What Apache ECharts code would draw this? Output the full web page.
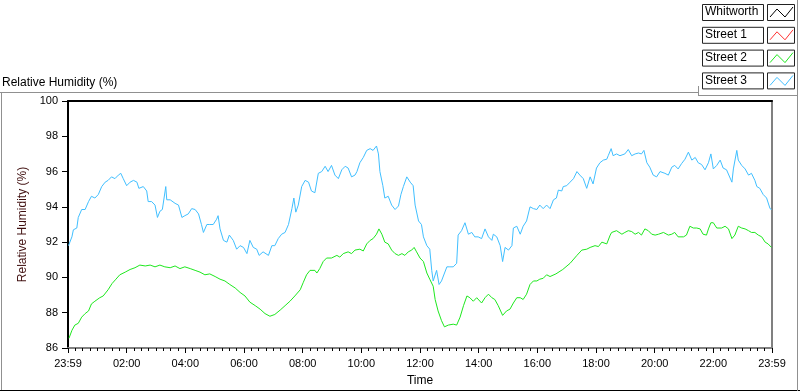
<!DOCTYPE html>
<html>
<head>
<meta charset="utf-8">
<script src="https://cdn.jsdelivr.net/npm/echarts@6/dist/echarts.min.js"></script>
<style>
html,body{margin:0;padding:0;background:#fff;}
#chart{width:800px;height:392px;}
</style>
</head>
<body>
<div id="chart"></div>
<script>
// ---- Data (minutes since 23:59 start, relative humidity %) ----
const seriesNames = ['Whitworth', 'Street 1', 'Street 2', 'Street 3'];
const seriesColors = ['#000000', '#ff3030', '#1ee81e', '#40bfff'];
const yTicks = [86, 88, 90, 92, 94, 96, 98, 100];
const xTickLabelsEnds = '23:59';

const whitworthTime = [];
const whitworthHum = [];
const street1Time = [];
const street1Hum = [];

const street2Time = [2,8,14,21,28,35,42,48,55,65,72,82,90,98,106,117,127,137,147,158,168,178,188,198,209,219,229,239,250,260,270,280,290,301,311,321,331,342,352,362,372,383,393,403,413,423,434,444,454,464,475,481,488,495,505,509,515,522,529,539,543,550,556,563,573,580,587,597,604,611,618,624,631,636,642,648,655,662,669,676,683,689,696,703,708,713,720,727,734,740,747,751,757,764,770,778,788,795,802,809,816,822,829,836,846,853,860,867,873,880,889,897,904,911,918,925,931,938,945,952,959,965,972,979,986,998,1012,1027,1041,1051,1061,1068,1078,1085,1092,1102,1109,1112,1122,1133,1139,1146,1153,1160,1167,1173,1180,1187,1194,1201,1208,1218,1228,1235,1241,1248,1259,1265,1272,1279,1286,1293,1299,1306,1310,1315,1320,1327,1337,1344,1351,1358,1364,1371,1378,1385,1392,1398,1405,1412,1419,1426,1432,1439];
const street2Hum = [86.55,87.0,87.3,87.4,87.75,87.95,88.1,88.5,88.65,88.85,88.95,89.3,89.65,89.9,90.15,90.3,90.45,90.55,90.7,90.65,90.7,90.6,90.7,90.6,90.55,90.65,90.5,90.6,90.5,90.4,90.3,90.15,90.2,90.05,89.9,89.8,89.6,89.4,89.15,88.95,88.6,88.4,88.2,87.95,87.8,87.9,88.15,88.4,88.65,88.95,89.3,89.7,90.15,90.4,90.4,90.25,90.5,90.9,91.1,91.1,91.0,91.25,91.15,91.35,91.45,91.35,91.55,91.6,91.5,91.9,92.1,92.2,92.45,92.75,92.45,92.0,91.9,91.55,91.35,91.25,91.35,91.25,91.45,91.55,91.7,91.45,91.1,90.9,90.25,89.9,89.5,88.75,88.1,87.55,87.2,87.3,87.35,87.3,87.75,88.4,88.95,88.85,88.65,88.85,88.55,88.85,89.05,88.85,88.75,88.4,87.85,88.1,88.2,88.55,88.85,88.85,88.75,89.05,89.6,89.8,89.8,89.9,89.95,90.15,90.05,90.2,90.45,90.8,91.25,91.55,91.6,91.7,91.8,91.75,92.0,91.9,92.4,92.55,92.65,92.45,92.55,92.65,92.6,92.45,92.55,92.4,92.75,92.65,92.45,92.4,92.45,92.55,92.4,92.45,92.55,92.3,92.3,92.4,92.9,92.8,92.8,92.75,92.45,92.4,92.75,93.1,93.1,92.8,92.8,92.9,92.75,92.2,92.4,92.9,92.8,92.75,92.65,92.55,92.55,92.4,92.3,92.0,91.9,91.7];

const street3Time = [1,8,11,18,21,28,35,42,48,55,62,69,76,82,89,96,103,108,113,120,127,134,141,145,154,161,164,171,178,183,188,193,200,202,209,219,226,233,239,246,253,260,267,273,277,284,290,297,304,307,311,318,325,330,338,345,352,359,366,372,379,386,391,399,410,417,423,430,437,444,451,458,462,466,471,478,485,488,492,495,498,505,512,519,526,532,539,546,553,560,567,573,580,587,591,597,604,611,618,624,631,635,638,644,648,655,662,669,676,681,686,693,700,706,710,717,723,727,734,740,744,747,754,759,764,768,775,781,788,795,798,805,812,816,819,826,832,839,846,853,860,867,870,877,884,889,894,901,908,911,918,925,931,938,945,952,959,965,972,979,986,989,993,999,1003,1010,1013,1020,1027,1034,1041,1047,1054,1061,1068,1074,1081,1088,1095,1102,1105,1111,1115,1122,1129,1139,1146,1153,1160,1167,1173,1178,1184,1190,1197,1204,1211,1221,1228,1235,1241,1248,1255,1262,1269,1276,1283,1289,1296,1303,1310,1315,1320,1327,1334,1340,1347,1358,1361,1368,1371,1378,1385,1392,1398,1405,1409,1415,1422,1429,1436,1439];
const street3Hum = [91.8,92.3,92.7,92.8,93.4,93.85,93.85,94.3,94.6,94.5,94.7,95.15,95.4,95.5,95.7,95.6,95.8,95.9,95.6,95.2,95.4,95.5,95.4,95.05,95.15,94.9,94.3,94.3,94.1,93.4,93.75,93.85,95.15,94.4,94.4,94.2,94.1,93.4,93.5,93.6,93.9,93.85,93.6,93.0,92.55,93.0,93.0,93.0,93.3,93.5,92.75,92.1,92.0,92.4,92.1,91.6,91.8,91.7,91.35,92.1,91.7,91.6,91.25,91.45,91.25,91.8,91.8,92.2,92.45,92.55,93.0,93.9,94.5,93.7,94.1,95.15,95.5,95.6,95.4,95.3,94.9,94.8,95.9,96.0,96.3,96.0,96.35,95.8,95.6,96.1,96.3,96.2,95.7,95.8,96.0,96.5,96.8,97.2,97.3,97.2,97.45,97.0,96.0,95.2,94.5,94.6,94.1,93.85,94.05,94.7,95.15,95.7,95.4,95.2,94.1,93.2,93.0,92.3,91.8,91.6,90.4,89.8,90.4,89.6,89.8,89.7,90.6,90.6,90.6,90.8,92.4,92.65,93.1,93.2,92.45,92.55,92.3,92.3,92.2,92.75,92.3,92.1,92.45,92.3,91.8,90.9,91.7,91.55,91.8,92.8,92.9,92.45,92.9,93.2,94.0,93.9,93.85,94.1,93.9,94.1,93.9,93.9,94.4,94.5,94.95,94.9,95.15,95.2,95.4,95.6,96.0,95.8,95.6,95.05,95.7,95.3,96.2,96.5,96.65,96.7,96.9,97.3,96.9,97.0,96.9,97.0,97.25,96.9,97.0,97.05,97.0,97.2,96.5,96.25,95.8,95.7,96.0,95.9,95.8,96.25,96.35,96.15,96.45,96.7,97.1,96.65,96.8,96.5,96.4,96.1,96.5,97.0,96.15,96.35,96.65,96.2,96.1,95.4,96.15,97.2,96.65,96.35,96.15,95.8,95.9,95.5,95.15,95.05,94.7,94.5,93.9,93.85];

const seriesTimes = [whitworthTime, street1Time, street2Time, street3Time];
const seriesHums = [whitworthHum, street1Hum, street2Hum, street3Hum];

// ---- Chart ----
const chart = echarts.init(document.getElementById('chart'), null, {renderer: 'canvas'});
const FONT = 'Liberation Sans, Arial, sans-serif';

function fmtTime(v) {
  if (v === 0 || v === 1440) return xTickLabelsEnds;
  const h = Math.round(v / 60);
  return (h < 10 ? '0' : '') + h + ':00';
}

const series = seriesNames.map((name, i) => ({
  name: name,
  type: 'line',
  xAxisIndex: 0,
  yAxisIndex: 0,
  showSymbol: false,
  symbol: 'none',
  smooth: false,
  lineStyle: {color: seriesColors[i], width: 1},
  itemStyle: {color: seriesColors[i]},
  data: seriesTimes[i].map((t, k) => [t, seriesHums[i][k]])
}));

// Legend drawn as boxed items (LabVIEW style)
const legendGraphics = [];
const lgX = 702, lgY0 = 4, lgPitch = 22.8, lgW = 61, lgH = 16, icX = 767, icW = 27;
seriesNames.forEach((name, i) => {
  const y = lgY0 + i * lgPitch;
  legendGraphics.push({
    type: 'rect', shape: {x: lgX + 0.5, y: y + 0.5, width: lgW, height: lgH},
    style: {fill: '#fff', stroke: '#222', lineWidth: 1}, z: 10
  });
  legendGraphics.push({
    type: 'text', x: lgX + 3, y: y + 2,
    style: {text: name, fill: '#000', font: '12px ' + FONT}, z: 11
  });
  legendGraphics.push({
    type: 'rect', shape: {x: icX + 0.5, y: y + 0.5, width: icW, height: lgH},
    style: {fill: '#fff', stroke: '#222', lineWidth: 1}, z: 10
  });
  legendGraphics.push({
    type: 'polyline',
    shape: {points: [[icX + 3, y + 13], [icX + 10, y + 5], [icX + 18, y + 13], [icX + 26, y + 3]]},
    style: {stroke: seriesColors[i], lineWidth: 1, fill: null}, z: 11
  });
});

const frameGraphics = [
  {type: 'line', shape: {x1: 0, y1: 92.5, x2: 698, y2: 92.5}, style: {stroke: '#909090', lineWidth: 1}},
  {type: 'line', shape: {x1: 698.5, y1: 86, x2: 698.5, y2: 95}, style: {stroke: '#909090', lineWidth: 1}},
  {type: 'line', shape: {x1: 698, y1: 95.5, x2: 797, y2: 95.5}, style: {stroke: '#909090', lineWidth: 1}},
  {type: 'line', shape: {x1: 1.5, y1: 92, x2: 1.5, y2: 390}, style: {stroke: '#909090', lineWidth: 1}},
  {type: 'line', shape: {x1: 0, y1: 390.5, x2: 800, y2: 390.5}, style: {stroke: '#000', lineWidth: 1}},
  {type: 'line', shape: {x1: 797.5, y1: 0, x2: 797.5, y2: 391}, style: {stroke: '#909090', lineWidth: 1}}
];

const option = {
  animation: false,
  backgroundColor: '#ffffff',
  title: {
    text: 'Relative Humidity (%)',
    left: 0, top: 77,
    padding: [0, 0, 0, 2],
    textStyle: {fontSize: 12, fontWeight: 'normal', color: '#000', fontFamily: FONT}
  },
  grid: {left: 68, top: 101, right: 28, bottom: 38, containLabel: false},
  xAxis: [{
    type: 'value', position: 'bottom',
    min: 0, max: 1440, interval: 120,
    name: 'Time', nameLocation: 'middle', nameGap: 27,
    nameTextStyle: {fontSize: 12, color: '#000', fontFamily: FONT},
    axisLine: {show: true, onZero: false, lineStyle: {color: '#808080', width: 2}},
    axisTick: {show: true, inside: false, length: 5, lineStyle: {color: '#000', width: 1}},
    minorTick: {show: true, splitNumber: 8, length: 3, lineStyle: {color: '#000', width: 1}},
    axisLabel: {show: true, margin: 10, fontSize: 11, color: '#000', fontFamily: FONT, formatter: fmtTime, showMinLabel: true, showMaxLabel: true},
    splitLine: {show: false}
  }, {
    type: 'value', position: 'top',
    min: 0, max: 1440,
    axisLine: {show: true, onZero: false, lineStyle: {color: '#000', width: 2}},
    axisTick: {show: false}, axisLabel: {show: false}, splitLine: {show: false}
  }],
  yAxis: [{
    type: 'value', position: 'left',
    min: yTicks[0], max: yTicks[yTicks.length - 1], interval: 2,
    name: 'Relative Humidity (%)', nameLocation: 'middle', nameGap: 38, nameRotate: 90,
    nameTextStyle: {fontSize: 12, color: '#401010', fontFamily: FONT},
    axisLine: {show: true, onZero: false, lineStyle: {color: '#000', width: 2}},
    axisTick: {show: true, inside: false, length: 6, lineStyle: {color: '#000', width: 1}},
    axisLabel: {show: true, margin: 10, fontSize: 11, color: '#000', fontFamily: FONT},
    splitLine: {show: false}
  }, {
    type: 'value', position: 'right',
    min: yTicks[0], max: yTicks[yTicks.length - 1],
    axisLine: {show: true, onZero: false, lineStyle: {color: '#808080', width: 2}},
    axisTick: {show: false}, axisLabel: {show: false}, splitLine: {show: false}
  }],
  series: series,
  graphic: frameGraphics.concat(legendGraphics)
};
chart.setOption(option);
</script>
</body>
</html>
